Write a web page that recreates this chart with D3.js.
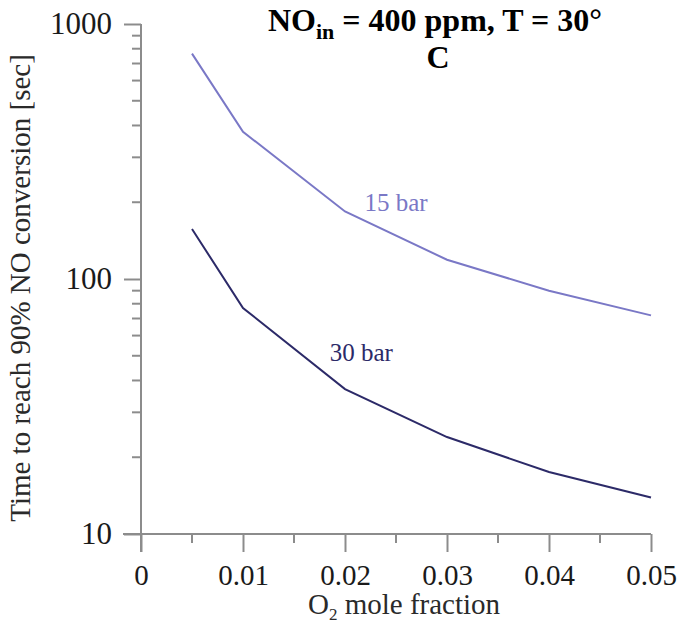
<!DOCTYPE html>
<html>
<head>
<meta charset="utf-8">
<script src="https://cdn.jsdelivr.net/npm/d3@7/dist/d3.min.js"></script>
<style>
  html, body { margin: 0; padding: 0; background: #ffffff; }
  svg { display: block; }
  svg text { font-family: "Liberation Serif", "Times New Roman", Tinos, "DejaVu Serif", serif !important; }
</style>
</head>
<body>
<svg id="chart" width="681" height="627"></svg>
<script>
// ---- data ----
const o2Fraction = [0.005, 0.01, 0.02, 0.03, 0.04, 0.05];
const time15bar = [765, 378, 184, 119, 90, 72];
const time30bar = [157, 77, 37, 24, 17.5, 13.9];
const seriesNames = ["15 bar", "30 bar"];
const xTickValues = [0, 0.01, 0.02, 0.03, 0.04, 0.05];
const xTickLabels = ["0", "0.01", "0.02", "0.03", "0.04", "0.05"];
const yTickValues = [10, 100, 1000];
const yTickLabels = ["10", "100", "1000"];

const svg = d3.select("#chart");
const x = d3.scaleLinear().domain([0, 0.05]).range([141, 651]);
const y = d3.scaleLog().domain([10, 1000]).range([534, 24]);

const axisColor = "#8c8c8c";

// minor ticks
const xMinor = d3.range(0.005, 0.05, 0.01);
const yMinor = [];
[10, 100].forEach(d => { for (let k = 2; k <= 9; k++) yMinor.push(d * k); });

// X axis
const xAxis = d3.axisBottom(x).tickValues(xTickValues).tickSize(18)
  .tickFormat((d, i) => xTickLabels[i]).tickPadding(12);
const gx = svg.append("g").attr("transform", `translate(0,${y(10)})`).call(xAxis);
gx.select(".domain").remove();
gx.append("line").attr("x1", x(0) - 18).attr("x2", x(0.05)).attr("y1", 0).attr("y2", 0)
  .attr("stroke", axisColor).attr("stroke-width", 2);
gx.selectAll(".tick line").attr("stroke", axisColor).attr("stroke-width", 2);
gx.selectAll(".tick text").attr("fill", "#1a1a1a").style("font-size", "29px");
gx.selectAll(".minor").data(xMinor).enter().append("line")
  .attr("x1", d => x(d)).attr("x2", d => x(d)).attr("y1", 0).attr("y2", 9)
  .attr("stroke", axisColor).attr("stroke-width", 2);

// Y axis
const yAxis = d3.axisLeft(y).tickValues(yTickValues).tickSize(17)
  .tickFormat((d, i) => yTickLabels[i]).tickPadding(12);
const gy = svg.append("g").attr("transform", `translate(${x(0)},0)`).call(yAxis);
gy.select(".domain").remove();
gy.append("line").attr("x1", 0).attr("x2", 0).attr("y1", y(1000)).attr("y2", y(10) + 18)
  .attr("stroke", axisColor).attr("stroke-width", 2);
gy.selectAll(".tick line").attr("stroke", axisColor).attr("stroke-width", 2);
gy.selectAll(".tick text").attr("fill", "#1a1a1a").style("font-size", "31px");
gy.selectAll(".minor").data(yMinor).enter().append("line")
  .attr("x1", -9).attr("x2", 0).attr("y1", d => y(d)).attr("y2", d => y(d))
  .attr("stroke", axisColor).attr("stroke-width", 2);

// lines
const line = d3.line().x(d => x(d[0])).y(d => y(d[1]));
const series = [
  { name: seriesNames[0], values: time15bar, color: "#7a78c6", lx: 0.0219, ly: 184 },
  { name: seriesNames[1], values: time30bar, color: "#2c2a68", lx: 0.0185, ly: 47.5 }
];
series.forEach(s => {
  svg.append("path").datum(o2Fraction.map((f, i) => [f, s.values[i]]))
    .attr("d", line).attr("fill", "none").attr("stroke", s.color).attr("stroke-width", 2);
  svg.append("text").attr("x", x(s.lx)).attr("y", y(s.ly))
    .attr("fill", s.color).style("font-size", "25px").text(s.name);
});

// axis titles
svg.append("text").attr("x", x(0.025) + 8).attr("y", 614).attr("text-anchor", "middle")
  .attr("fill", "#2a2a2a").style("font-size", "29px")
  .html('O<tspan dy="6" style="font-size:17px">2</tspan><tspan dy="-6"> mole fraction</tspan>');

svg.append("text").attr("transform", "translate(30,288) rotate(-90)")
  .attr("text-anchor", "middle").attr("fill", "#2a2a2a").style("font-size", "29px")
  .text("Time to reach 90% NO conversion [sec]");

// chart title
const title = svg.append("text").attr("x", 435).attr("y", 31).attr("text-anchor", "middle")
  .attr("fill", "#000").style("font-size", "32px").style("font-weight", "bold");
title.append("tspan").text("NO");
title.append("tspan").attr("dy", 8).style("font-size", "22px").text("in");
title.append("tspan").attr("dy", -8).text(" = 400 ppm, T = 30°");
svg.append("text").attr("x", 438).attr("y", 68).attr("text-anchor", "middle")
  .attr("fill", "#000").style("font-size", "32px").style("font-weight", "bold").text("C");
</script>
</body>
</html>
